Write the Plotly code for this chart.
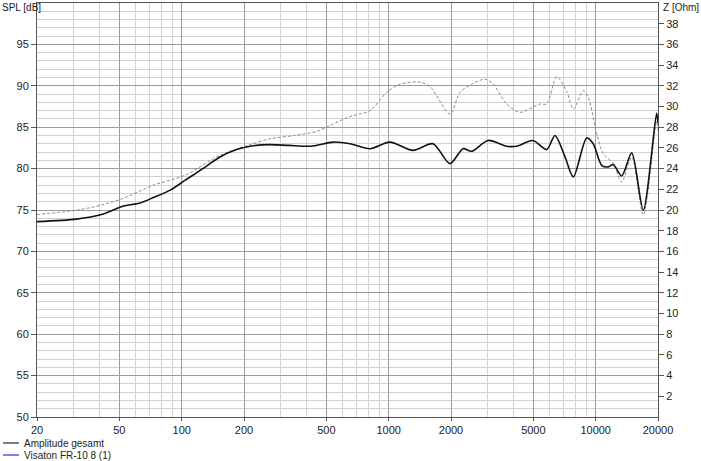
import plotly.graph_objects as go
import math

# ---- data ----
spl_freq = [20, 31, 41, 52, 63, 73, 88, 104, 125, 153, 184, 214, 267, 330, 420, 540, 650, 812,
            1014, 1310, 1637, 1978, 2285, 2520, 3020, 3716, 4150, 4980, 5800, 6360, 7112, 7800,
            9045, 9730, 10690, 11500, 12160, 13356, 14930, 16980, 19700, 20000]
spl_db = [73.6, 73.9, 74.45, 75.45, 75.85, 76.5, 77.4, 78.6, 79.9, 81.4, 82.3, 82.7, 82.9, 82.8,
          82.7, 83.2, 83.0, 82.4, 83.2, 82.2, 83.0, 80.6, 82.4, 82.1, 83.4, 82.7, 82.7, 83.4,
          82.3, 84.0, 81.4, 79.0, 83.7, 83.0, 80.4, 80.2, 80.5, 79.1, 81.9, 75.0, 86.7, 85.5]

ref_freq = [20, 31, 41, 52, 73, 104, 153, 214, 267, 350, 450, 530, 650, 812, 978, 1134, 1416,
            1584, 1978, 2210, 2520, 2920, 3200, 3716, 4310, 5380, 5800, 6480, 7245, 7800, 8710,
            9210, 10115, 10890, 12160, 13356, 14930, 16980, 19700, 20000]
ref_db = [74.45, 74.97, 75.6, 76.4, 78.0, 79.2, 81.6, 82.9, 83.6, 84.0, 84.5, 85.3, 86.3, 87.0,
          89.2, 90.2, 90.45, 89.9, 86.6, 89.2, 90.2, 90.8, 90.2, 87.8, 86.8, 87.8, 87.8, 91.1,
          89.3, 87.2, 89.4, 88.6, 84.2, 81.8, 80.6, 78.4, 81.4, 74.4, 85.7, 84.6]

x_ticks = [20, 50, 100, 200, 500, 1000, 2000, 5000, 10000, 20000]
x_minor = [30, 40, 60, 70, 80, 90, 300, 400, 600, 700, 800, 900,
           3000, 4000, 6000, 7000, 8000, 9000]
y_ticks = [50, 55, 60, 65, 70, 75, 80, 85, 90, 95]
z_ticks = list(range(2, 40, 2))
legend_names = ["Amplitude gesamt", "Visaton FR-10 8 (1)"]
legend_colors = ["#000000", "#0000cc"]

FONT = "Liberation Sans, Arial, sans-serif"
TXT = "#222222"
LIGHT = "#d2d2d2"
DARK = "#9a9a9a"

fig = go.Figure()
fig.add_trace(go.Scatter(x=ref_freq, y=ref_db, mode="lines",
                         line=dict(color="#8a8a8a", width=1, dash="3px,2px", shape="spline", smoothing=0.8),
                         showlegend=False, hoverinfo="skip"))
fig.add_trace(go.Scatter(x=spl_freq, y=spl_db, mode="lines",
                         line=dict(color="#111111", width=1.6, shape="spline", smoothing=0.8),
                         showlegend=False, hoverinfo="skip"))
# dummy trace for right axis
fig.add_trace(go.Scatter(x=[20], y=[0], yaxis="y2", mode="markers", marker=dict(opacity=0),
                         showlegend=False, hoverinfo="skip"))

fig.update_layout(
    width=701, height=461,
    margin=dict(l=37, r=43, t=3, b=44),
    paper_bgcolor="white", plot_bgcolor="white",
    font=dict(family=FONT, size=11, color=TXT),
    showlegend=False,
    xaxis=dict(type="log", range=[math.log10(20), math.log10(20000)],
               tickmode="array", tickvals=x_ticks, ticktext=[str(v) for v in x_ticks],
               showgrid=True, gridcolor=DARK, gridwidth=1,
               ticks="outside", ticklen=3, tickcolor="#555555",
               showline=True, linecolor="#555555", linewidth=1, mirror=True,
               minor=dict(tickmode="array", tickvals=x_minor, showgrid=True, gridcolor=LIGHT, gridwidth=1),
               zeroline=False, tickfont=dict(family=FONT, size=11, color=TXT)),
    yaxis=dict(range=[50, 100], tickmode="array", tickvals=y_ticks,
               showgrid=True, gridcolor=DARK, gridwidth=1,
               ticks="outside", ticklen=5, tickcolor="#555555",
               showline=True, linecolor="#555555", linewidth=1,
               minor=dict(tickmode="array", tickvals=[v for v in range(51, 100) if v % 5 != 0],
                          showgrid=True, gridcolor=LIGHT, gridwidth=1),
               zeroline=False, tickfont=dict(family=FONT, size=11, color=TXT)),
    yaxis2=dict(range=[0, 40], overlaying="y", side="right", anchor="x",
                tickmode="array", tickvals=z_ticks, showgrid=False,
                ticks="outside", ticklen=5, tickcolor="#555555",
                showline=True, linecolor="#555555", linewidth=1,
                zeroline=False, tickfont=dict(family=FONT, size=11, color=TXT)),
)

# axis titles
fig.add_annotation(text="SPL [dB]", xref="paper", yref="paper", x=-37/621, y=1 + 3/414,
                   xanchor="left", yanchor="top", showarrow=False, font=dict(family=FONT, size=10, color=TXT))
fig.add_annotation(text="Z [Ohm]", xref="paper", yref="paper", x=1 + 3/621, y=1 + 3/414,
                   xanchor="left", yanchor="top", showarrow=False, font=dict(family=FONT, size=10, color=TXT))

# legend drawn manually
for i, (name, col) in enumerate(zip(legend_names, legend_colors)):
    ypx = 443 + i * 12
    yp = (417 - ypx) / 414
    fig.add_shape(type="line", xref="paper", yref="paper",
                  x0=(3 - 37) / 621, x1=(19 - 37) / 621, y0=yp, y1=yp,
                  line=dict(color=col, width=1))
    fig.add_annotation(text=name, xref="paper", yref="paper", x=(22 - 37) / 621, y=yp,
                       xanchor="left", yanchor="middle", showarrow=False,
                       font=dict(family=FONT, size=10, color=TXT))

fig.write_html("out.html", config={"displayModeBar": False},
               post_script="document.body.style.margin='0';document.body.style.overflow='hidden';")
